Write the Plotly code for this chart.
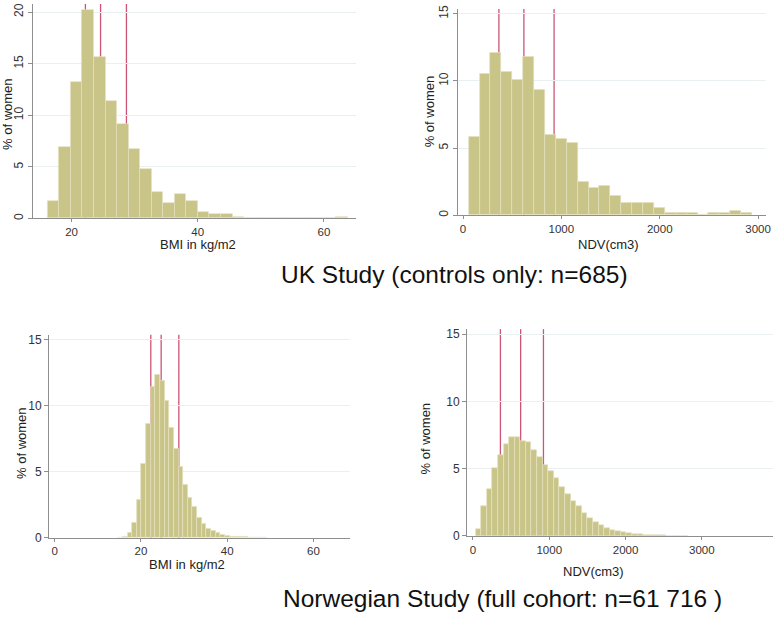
import plotly.graph_objects as go

W, H = 778, 623

# ---------------- data ----------------
# UK study, BMI histogram (% of women per bin)
uk_bmi_start = 16.2
uk_bmi_width = 1.83
uk_bmi_pct = [1.68, 6.92, 13.27, 20.25, 15.65, 11.43, 9.14, 6.73, 4.83, 2.54,
              1.49, 2.38, 1.65, 0.58, 0.44, 0.44, 0.15, 0.0, 0.0, 0.0,
              0.0, 0.0, 0.0, 0.0, 0.0, 0.15]
uk_bmi_quartiles = [22.2, 24.6, 28.7]

# UK study, NDV histogram
uk_ndv_start = 58
uk_ndv_width = 110.8
uk_ndv_pct = [5.84, 10.51, 12.12, 10.66, 10.07, 11.82, 9.34, 5.99, 5.69, 5.40,
              2.48, 2.04, 2.19, 1.46, 0.88, 0.88, 0.88, 0.58, 0.15, 0.15,
              0.15, 0.0, 0.15, 0.15, 0.29, 0.15]
uk_ndv_quartiles = [365, 619, 926]

# Norwegian study, BMI histogram
nor_bmi_start = 14.75
nor_bmi_width = 1.075
nor_bmi_pct = [0.02, 0.1, 0.35, 1.1, 2.84, 5.57, 8.6, 11.4, 12.32, 11.9,
               10.36, 8.3, 6.74, 5.37, 4.0, 3.04, 2.3, 1.49, 1.06, 0.69,
               0.5, 0.37, 0.25, 0.17, 0.1, 0.07, 0.05, 0.03, 0.02, 0.015,
               0.01, 0.01]
nor_bmi_quartiles = [22.3, 24.7, 28.8]

# Norwegian study, NDV histogram
nor_ndv_start = 35
nor_ndv_width = 73.2
nor_ndv_pct = [0.5, 2.23, 3.5, 5.0, 6.0, 6.85, 7.35, 7.35, 7.06, 6.94,
               6.38, 5.84, 5.24, 4.8, 4.26, 3.63, 3.1, 2.55, 2.18, 1.71,
               1.3, 1.0, 0.78, 0.6, 0.45, 0.34, 0.26, 0.19, 0.14, 0.1,
               0.07, 0.05, 0.04, 0.03, 0.02, 0.015, 0.01, 0.01]
nor_ndv_quartiles = [360, 625, 924]

x_title_bmi = "BMI in kg/m2"
x_title_ndv = "NDV(cm3)"
y_title = "% of women"
caption_uk = "UK Study (controls only: n=685)"
caption_nor = "Norwegian Study (full cohort: n=61 716 )"

# ---------------- style ----------------
FONT = "Liberation Sans, Arial, sans-serif"
BAR_FILL = "#C9C488"
BAR_EDGE = "#E4E1C0"
QLINE = "#CC5577"
AXIS = "#8E8E8E"
GRID = "#EAF0F1"
TICKTXT = "#333333"


def px2x(px):
    return px / W


def py2y(py):
    return 1 - py / H


panels = [
    dict(s="", start=uk_bmi_start, width=uk_bmi_width, pct=uk_bmi_pct, q=uk_bmi_quartiles,
         xd=(33, 358), yd=(0, 218.3), xr=(20 + (33 - 72) / 6.35, 20 + (358 - 72) / 6.35),
         yr=(0, 218.3 / 10.5), xt=[20, 40, 60], yt=[0, 5, 10, 15, 20], ang=-90),
    dict(s="2", start=uk_ndv_start, width=uk_ndv_width, pct=uk_ndv_pct, q=uk_ndv_quartiles,
         xd=(461, 771), yd=(5, 215), xr=((461 - 466) / 0.099, (771 - 466) / 0.099),
         yr=(0, 210 / 13.67), xt=[0, 1000, 2000, 3000], yt=[0, 5, 10, 15], ang=-90),
    dict(s="3", start=nor_bmi_start, width=nor_bmi_width, pct=nor_bmi_pct, q=nor_bmi_quartiles,
         xd=(49.3, 352), yd=(336.7, 543.2), xr=((49.3 - 55) / 4.34, (352 - 55) / 4.34),
         yr=(0, 206.5 / 13.44), xt=[0, 20, 40, 60], yt=[0, 5, 10, 15], ang=0),
    dict(s="4", start=nor_ndv_start, width=nor_ndv_width, pct=nor_ndv_pct, q=nor_ndv_quartiles,
         xd=(470, 778), yd=(331, 541.5), xr=((470 - 476) / 0.0768, (778 - 476) / 0.0768),
         yr=(0, 210.5 / 13.7), xt=[0, 1000, 2000, 3000], yt=[0, 5, 10, 15], ang=0),
]

fig = go.Figure()
layout = dict(
    width=W, height=H, margin=dict(l=0, r=0, t=0, b=0),
    paper_bgcolor="white", plot_bgcolor="white", showlegend=False,
    bargap=0, font=dict(family=FONT, color=TICKTXT, size=12),
)

for p in panels:
    s = p["s"]
    centers = [p["start"] + p["width"] * (i + 0.5) for i in range(len(p["pct"]))]
    fig.add_trace(go.Bar(
        x=centers, y=p["pct"], width=[p["width"]] * len(centers),
        marker=dict(color=BAR_FILL, line=dict(color=BAR_EDGE, width=0.7)),
        xaxis="x" + s, yaxis="y" + s, hoverinfo="skip",
    ))
    for qv in p["q"]:
        fig.add_shape(type="line", xref="x" + s, yref=("y" + s) + " domain",
                      x0=qv, x1=qv, y0=0, y1=1, layer="below",
                      line=dict(color=QLINE, width=1.3))
    layout["xaxis" + s] = dict(
        domain=[px2x(p["xd"][0]), px2x(p["xd"][1])], range=list(p["xr"]),
        anchor="y" + s, showline=True, linecolor=AXIS, linewidth=1,
        ticks="outside", ticklen=3, tickcolor=AXIS, tickvals=p["xt"],
        showgrid=False, zeroline=False, tickfont=dict(size=11.5, color=TICKTXT),
    )
    layout["yaxis" + s] = dict(
        domain=[py2y(p["yd"][1]), py2y(p["yd"][0])], range=list(p["yr"]),
        anchor="x" + s, showline=True, linecolor=AXIS, linewidth=1,
        ticks="outside", ticklen=4, tickcolor=AXIS, tickvals=p["yt"],
        showgrid=True, gridcolor=GRID, gridwidth=1, zeroline=False,
        tickangle=p["ang"], tickfont=dict(size=12, color=TICKTXT),
    )

fig.update_layout(**layout)

ann = []
# axis titles
for txt, cx, cy in [(x_title_bmi, 199, 245), (x_title_ndv, 612, 245),
                    (x_title_bmi, 188, 571), (x_title_ndv, 597, 578)]:
    ann.append(dict(text=txt, x=px2x(cx), y=py2y(cy), xref="paper", yref="paper",
                    xanchor="center", yanchor="middle", showarrow=False,
                    font=dict(size=13, color="#222222", family=FONT)))
for cx, cy in [(7, 112), (432, 109), (21, 447), (428, 442)]:
    ann.append(dict(text=y_title, x=px2x(cx), y=py2y(cy), xref="paper", yref="paper",
                    xanchor="center", yanchor="middle", showarrow=False, textangle=-90,
                    font=dict(size=13, color="#222222", family=FONT)))
# captions
ann.append(dict(text=caption_uk, x=px2x(281), y=py2y(275), xref="paper", yref="paper",
                xanchor="left", yanchor="middle", showarrow=False,
                font=dict(size=24.5, color="#111111", family=FONT)))
ann.append(dict(text=caption_nor, x=px2x(283), y=py2y(605), xref="paper", yref="paper",
                xanchor="left", yanchor="middle", showarrow=False,
                font=dict(size=24.5, color="#111111", family=FONT)))
fig.update_layout(annotations=ann)

fig.write_html("out.html", config={"displayModeBar": False},
               post_script="document.body.style.margin='0';")
